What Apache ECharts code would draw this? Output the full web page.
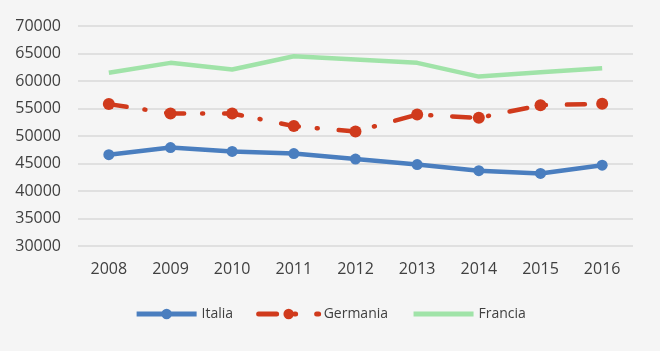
<!DOCTYPE html>
<html>
<head>
<meta charset="utf-8">
<script src="https://cdn.jsdelivr.net/npm/echarts@6/dist/echarts.min.js"></script>
<style>
    html, body { margin: 0; padding: 0; background: #f5f5f5; }
    #chart { width: 660px; height: 351px; }
</style>
</head>
<body>
<div id="chart"></div>
<script>
    var years = ['2008', '2009', '2010', '2011', '2012', '2013', '2014', '2015', '2016'];
    var italia = [46600, 47900, 47200, 46800, 45800, 44800, 43700, 43200, 44700];
    var germania = [55800, 54100, 54100, 51800, 50800, 53900, 53300, 55600, 55850];
    var francia = [61500, 63300, 62100, 64500, 63900, 63300, 60800, 61600, 62300];

    var chart = echarts.init(document.getElementById('chart'));
    var option = {
        backgroundColor: '#f5f5f5',
        textStyle: {
            fontFamily: 'Open Sans',
            color: '#404040'
        },
        grid: {
            left: 78,
            right: 27,
            top: 26,
            bottom: 105
        },
        legend: {
            left: 'center',
            top: 302,
            itemWidth: 60,
            itemHeight: 13,
            itemGap: 23,
            lineStyle: { width: 5 },
            textStyle: {
                fontSize: 14,
                color: '#404040'
            },
            data: [
                'Italia',
                'Germania',
                // niente cerchio per Francia
                { name: 'Francia', itemStyle: { color: 'rgba(0,0,0,0)', borderWidth: 0 } }
            ]
        },
        xAxis: {
            type: 'category',
            data: years,
            axisLine: { show: false },
            axisTick: { show: false },
            axisLabel: {
                fontSize: 16,
                color: '#404040',
                margin: 15
            }
        },
        yAxis: {
            type: 'value',
            min: 30000,
            max: 70000,
            interval: 5000,
            axisLabel: {
                fontSize: 16,
                color: '#404040',
                margin: 17,
                formatter: function (v) {
                    return String(v);
                }
            },
            splitLine: {
                lineStyle: { color: '#d8d8d8', width: 1.5 }
            }
        },
        series: [{
            name: 'Italia',
            type: 'line',
            data: italia,
            symbol: 'circle',
            symbolSize: 11,
            lineStyle: { color: '#4a7ebf', width: 4.5 },
            itemStyle: { color: '#4a7ebf' },
            z: 3
        }, {
            name: 'Germania',
            type: 'line',
            data: germania,
            symbol: 'circle',
            symbolSize: 12,
            lineStyle: {
                color: '#d03a1c',
                width: 4.5,
                type: [18, 18, 1, 21],
                dashOffset: 0,
                cap: 'round'
            },
            itemStyle: { color: '#d03a1c' },
            z: 2
        }, {
            name: 'Francia',
            type: 'line',
            data: francia,
            symbol: 'none',
            lineStyle: { color: '#a0e3a8', width: 4.5 },
            itemStyle: { color: '#a0e3a8' },
            z: 1
        }]
    };
    chart.setOption(option);
</script>
</body>
</html>
